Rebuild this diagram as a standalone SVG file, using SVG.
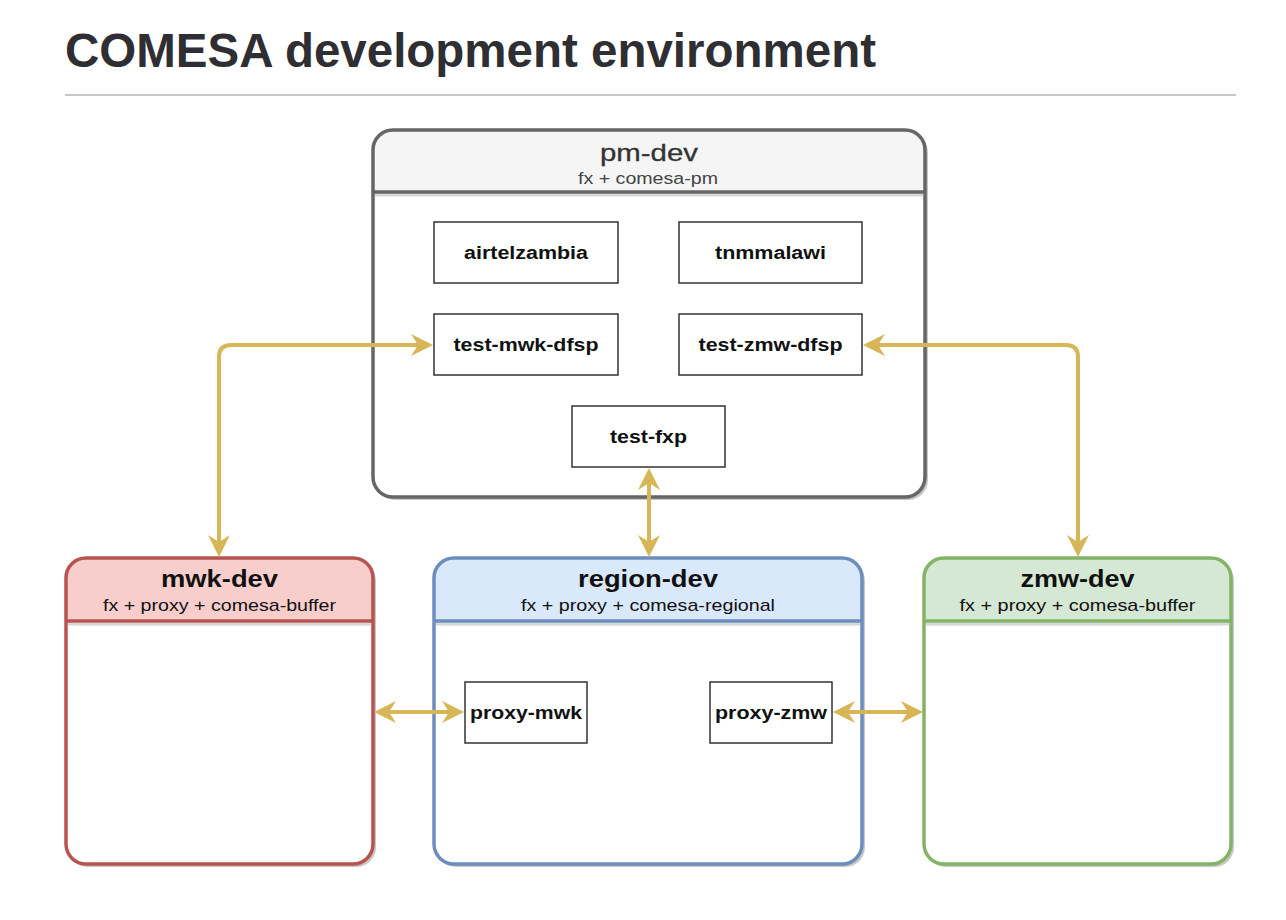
<svg xmlns="http://www.w3.org/2000/svg" width="1286" height="920" viewBox="0 0 1286 920">
<defs>
<style>
.t{font-family:"Liberation Sans",Arial,Helvetica,sans-serif}
.ttl{font-size:23px;font-weight:bold;fill:#111;text-anchor:middle}
.sub{font-size:17px;fill:#111;text-anchor:middle}
.lbl{font-size:18px;font-weight:bold;fill:#111;text-anchor:middle}
.box{fill:#fff;stroke:#333;stroke-width:1.5}
.shadow{fill:#000;opacity:0.22}
.body{fill:#fff}
.conn{fill:none;stroke:#d6b656;stroke-width:4}
</style>
<marker id="arr" markerUnits="userSpaceOnUse" markerWidth="22" markerHeight="22" refX="9" refY="11" orient="auto-start-reverse">
<path d="M0,0 L22,11 L0,22 L7,11 Z" fill="#d6b656"/>
</marker>
</defs>
<rect width="1286" height="920" fill="#fff"/>
<text class="t" x="65" y="67" font-size="48" font-weight="bold" fill="#2e2e33" textLength="811" lengthAdjust="spacingAndGlyphs">COMESA development environment</text>
<line x1="65" y1="95" x2="1236" y2="95" stroke="#c8c8c8" stroke-width="2"/>

<g id="pm-dev">
<rect class="shadow" x="376" y="133" width="552" height="367" rx="20"/>
<rect class="body" x="373" y="130" width="552" height="367" rx="20"/>
<path d="M373,192 V150 A20,20 0 0 1 393,130 H905 A20,20 0 0 1 925,150 V192 Z" fill="#f5f5f5"/>
<line x1="375" y1="195" x2="923" y2="195" stroke="#000" stroke-width="3" opacity="0.15"/>
<line x1="373" y1="192" x2="925" y2="192" stroke="#666" stroke-width="3.5"/>
<rect x="373" y="130" width="552" height="367" rx="20" fill="none" stroke="#666" stroke-width="3.5"/>
<text class="t" x="649" y="161" font-size="24" fill="#333" stroke="#333" stroke-width="0.3" text-anchor="middle" textLength="98" lengthAdjust="spacingAndGlyphs">pm-dev</text>
<text class="t" x="648" y="184" font-size="16" fill="#444" text-anchor="middle" textLength="140" lengthAdjust="spacingAndGlyphs">fx + comesa-pm</text>
</g>

<g id="airtelzambia">
<rect class="box" x="434" y="222" width="184" height="61"/>
<text class="t lbl" x="526" y="259" textLength="124" lengthAdjust="spacingAndGlyphs">airtelzambia</text>
</g>
<g id="tnmmalawi">
<rect class="box" x="679" y="222" width="183" height="61"/>
<text class="t lbl" x="770.5" y="259" textLength="111" lengthAdjust="spacingAndGlyphs">tnmmalawi</text>
</g>
<g id="test-mwk-dfsp">
<rect class="box" x="434" y="314" width="184" height="61"/>
<text class="t lbl" x="526" y="351" textLength="145" lengthAdjust="spacingAndGlyphs">test-mwk-dfsp</text>
</g>
<g id="test-zmw-dfsp">
<rect class="box" x="679" y="314" width="183" height="61"/>
<text class="t lbl" x="770.5" y="351" textLength="144" lengthAdjust="spacingAndGlyphs">test-zmw-dfsp</text>
</g>
<g id="test-fxp">
<rect class="box" x="572" y="406" width="153" height="61"/>
<text class="t lbl" x="648.5" y="443" textLength="77" lengthAdjust="spacingAndGlyphs">test-fxp</text>
</g>

<g id="mwk-dev">
<rect class="shadow" x="69" y="561" width="307" height="306" rx="20"/>
<rect class="body" x="66" y="558" width="307" height="306" rx="20"/>
<path d="M66,621 V578 A20,20 0 0 1 86,558 H353 A20,20 0 0 1 373,578 V621 Z" fill="#f8cecc"/>
<line x1="68" y1="624" x2="371" y2="624" stroke="#000" stroke-width="3" opacity="0.15"/>
<line x1="66" y1="621" x2="373" y2="621" stroke="#b85450" stroke-width="3.5"/>
<rect x="66" y="558" width="307" height="306" rx="20" fill="none" stroke="#b85450" stroke-width="3.5"/>
<text class="t ttl" x="219.5" y="587" textLength="117" lengthAdjust="spacingAndGlyphs">mwk-dev</text>
<text class="t sub" x="219.5" y="611" textLength="233" lengthAdjust="spacingAndGlyphs">fx + proxy + comesa-buffer</text>
</g>

<g id="region-dev">
<rect class="shadow" x="437" y="561" width="428" height="306" rx="20"/>
<rect class="body" x="434" y="558" width="428" height="306" rx="20"/>
<path d="M434,621 V578 A20,20 0 0 1 454,558 H842 A20,20 0 0 1 862,578 V621 Z" fill="#dae8fc"/>
<line x1="436" y1="624" x2="860" y2="624" stroke="#000" stroke-width="3" opacity="0.15"/>
<line x1="434" y1="621" x2="862" y2="621" stroke="#6c8ebf" stroke-width="3.5"/>
<rect x="434" y="558" width="428" height="306" rx="20" fill="none" stroke="#6c8ebf" stroke-width="3.5"/>
<text class="t ttl" x="648" y="587" textLength="140" lengthAdjust="spacingAndGlyphs">region-dev</text>
<text class="t sub" x="648" y="611" textLength="254" lengthAdjust="spacingAndGlyphs">fx + proxy + comesa-regional</text>
</g>
<g id="proxy-mwk">
<rect class="box" x="465" y="682" width="122" height="61"/>
<text class="t lbl" x="526" y="719" textLength="112" lengthAdjust="spacingAndGlyphs">proxy-mwk</text>
</g>
<g id="proxy-zmw">
<rect class="box" x="710" y="682" width="122" height="61"/>
<text class="t lbl" x="771" y="719" textLength="112" lengthAdjust="spacingAndGlyphs">proxy-zmw</text>
</g>

<g id="zmw-dev">
<rect class="shadow" x="927" y="561" width="307" height="306" rx="20"/>
<rect class="body" x="924" y="558" width="307" height="306" rx="20"/>
<path d="M924,621 V578 A20,20 0 0 1 944,558 H1211 A20,20 0 0 1 1231,578 V621 Z" fill="#d5e8d4"/>
<line x1="926" y1="624" x2="1229" y2="624" stroke="#000" stroke-width="3" opacity="0.15"/>
<line x1="924" y1="621" x2="1231" y2="621" stroke="#82b366" stroke-width="3.5"/>
<rect x="924" y="558" width="307" height="306" rx="20" fill="none" stroke="#82b366" stroke-width="3.5"/>
<text class="t ttl" x="1077.5" y="587" textLength="114" lengthAdjust="spacingAndGlyphs">zmw-dev</text>
<text class="t sub" x="1077.5" y="611" textLength="236" lengthAdjust="spacingAndGlyphs">fx + proxy + comesa-buffer</text>
</g>

<g id="connectors">
<path class="conn" d="M219,544 V357 Q219,345 231,345 H420" marker-start="url(#arr)" marker-end="url(#arr)"/>
<path class="conn" d="M876,345 H1066 Q1078,345 1078,357 V544" marker-start="url(#arr)" marker-end="url(#arr)"/>
<path class="conn" d="M649,481 V544" marker-start="url(#arr)" marker-end="url(#arr)"/>
<path class="conn" d="M387,712 H451" marker-start="url(#arr)" marker-end="url(#arr)"/>
<path class="conn" d="M846,712 H910" marker-start="url(#arr)" marker-end="url(#arr)"/>
</g>
</svg>
